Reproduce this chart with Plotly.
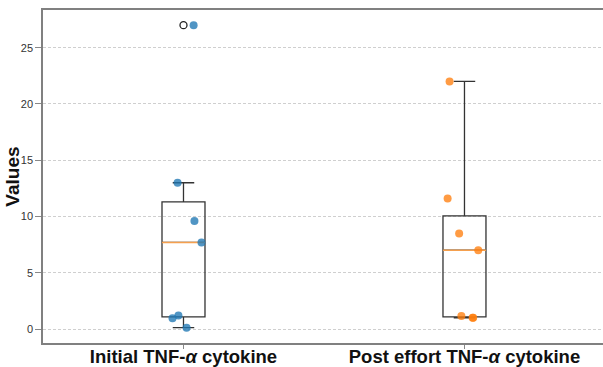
import numpy as np
import plotly.graph_objects as go

# ---- data ----
categories = ["Initial TNF-<i>α</i> cytokine", "Post effort TNF-<i>α</i> cytokine"]
initial_values = [27, 13, 9.6, 7.7, 1.2, 0.95, 0.12]
post_values = [22, 11.6, 8.5, 7.0, 1.15, 1.0, 1.0]
initial_jitter = [0.036, -0.021, 0.039, 0.064, -0.018, -0.039, 0.011]
post_jitter = [-0.053, -0.060, -0.019, 0.049, -0.011, 0.031, 0.029]
y_ticks = [0, 5, 10, 15, 20, 25]

groups = [initial_values, post_values]
jitters = [initial_jitter, post_jitter]
point_colors = ["rgba(31,119,180,0.78)", "rgba(255,127,14,0.78)"]
positions = [1, 2]
box_width = 0.153

fig = go.Figure()

for pos, vals in zip(positions, groups):
    fig.add_trace(go.Box(
        y=vals, x=[pos] * len(vals),
        quartilemethod="inclusive",
        boxpoints="outliers",
        width=box_width,
        whiskerwidth=0.5,
        fillcolor="rgba(0,0,0,0)",
        line=dict(color="#333333", width=1.3),
        marker=dict(symbol="circle-open", color="#222222", size=7,
                    line=dict(color="#222222", width=1.3)),
        showlegend=False, hoverinfo="skip",
    ))

# median lines (computed from data)
for pos, vals in zip(positions, groups):
    med = float(np.median(vals))
    fig.add_trace(go.Scatter(
        x=[pos - box_width / 2, pos + box_width / 2], y=[med, med],
        mode="lines", line=dict(color="#f5a04e", width=1.5),
        showlegend=False, hoverinfo="skip",
    ))

# jittered points
for pos, vals, jit, col in zip(positions, groups, jitters, point_colors):
    fig.add_trace(go.Scatter(
        x=[pos + j for j in jit], y=vals, mode="markers",
        marker=dict(color=col, size=8, line=dict(width=0)),
        showlegend=False, hoverinfo="skip",
    ))

fig.update_layout(
    width=603, height=367,
    margin=dict(l=43, r=0, t=10, b=24),
    plot_bgcolor="white", paper_bgcolor="white",
    font=dict(family="Liberation Sans, Arial, sans-serif", color="#222222"),
    xaxis=dict(
        range=[0.5, 2.493], automargin=False,
        tickmode="array", tickvals=positions, ticktext=[f"<b>{c}</b>" for c in categories],
        tickfont=dict(size=18.5, color="#111111"),
        ticks="outside", ticklen=4, tickcolor="#888888",
        ticklabelstandoff=-8,
        showgrid=False, zeroline=False,
        showline=True, linecolor="#808080", linewidth=1.5, mirror=True,
    ),
    yaxis=dict(
        range=[-1.24, 28.35], automargin=False,
        tickmode="array", tickvals=y_ticks,
        tickfont=dict(size=11, color="#333333"),
        ticks="outside", ticklen=6, tickcolor="#888888",
        showgrid=True, gridcolor="#cfcfcf", gridwidth=0.8, griddash="3px,2px",
        zeroline=False,
        showline=True, linecolor="#808080", linewidth=1.5, mirror=False,
    ),
    annotations=[dict(
        text="<b>Values</b>", xref="paper", yref="paper",
        x=-0.055, y=0.5, xanchor="center", yanchor="middle",
        textangle=-90, showarrow=False,
        font=dict(size=19, color="#111111", family="Liberation Sans, Arial, sans-serif"),
    )],
)

fig.write_html("out.html", config={"displayModeBar": False})
